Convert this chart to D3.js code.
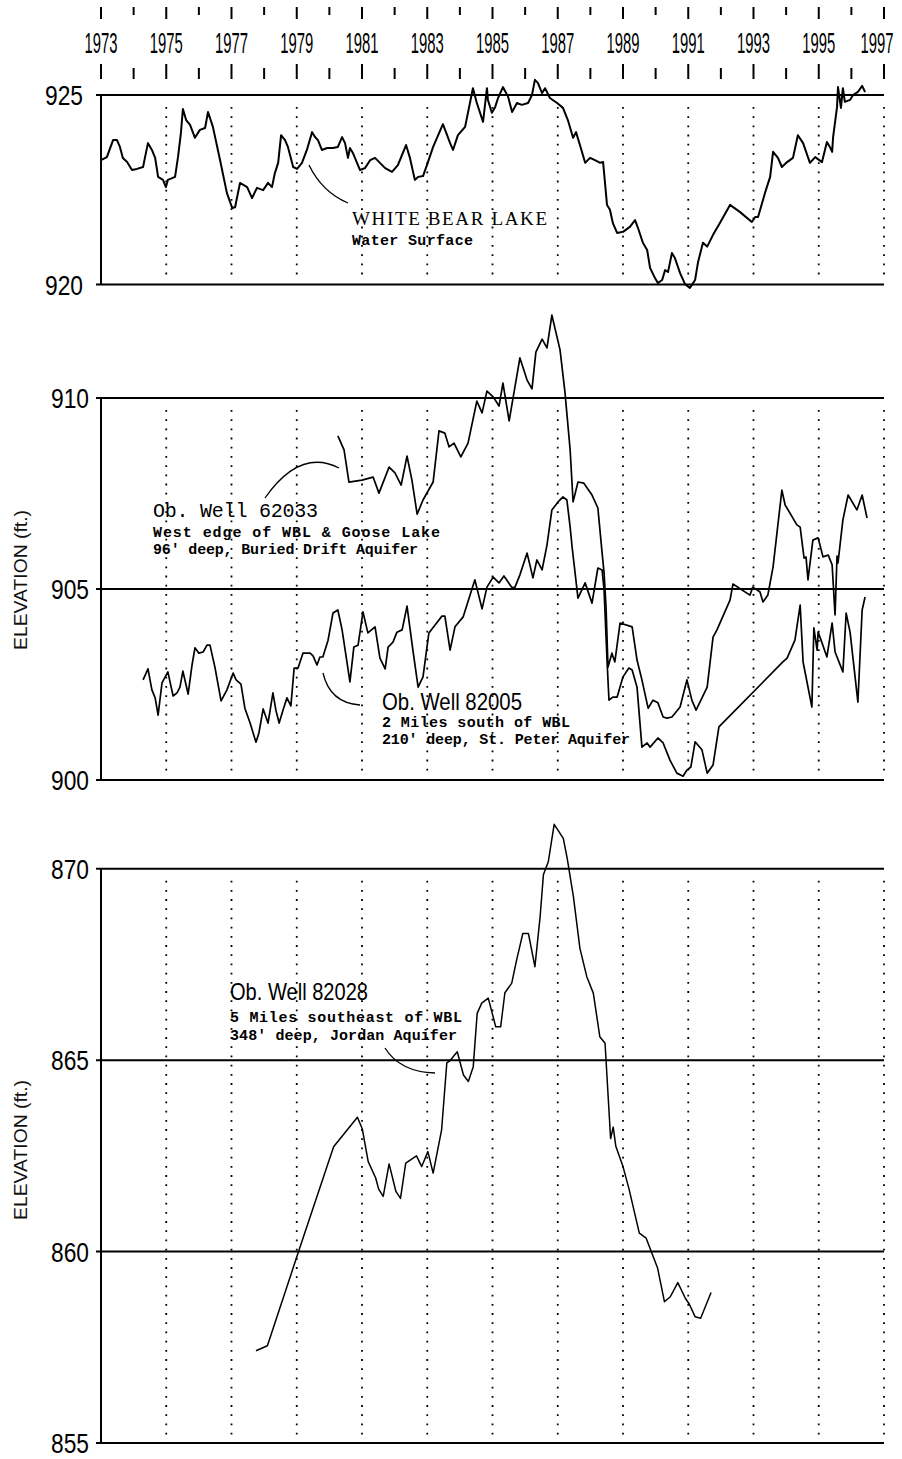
<!DOCTYPE html>
<html>
<head>
<meta charset="utf-8">
<script src="https://cdn.jsdelivr.net/npm/d3@7"></script>
<style>
  html, body { margin: 0; padding: 0; background: #fff; }
  svg { display: block; }
</style>
</head>
<body>
<svg id="chart" width="902" height="1459"></svg>
<script>
var tickYears  = d3.range(1973, 1998);
var labelYears = [1973, 1975, 1977, 1979, 1981, 1983, 1985, 1987, 1989, 1991, 1993, 1995, 1997];
var gridYears  = [1975, 1977, 1979, 1981, 1983, 1985, 1987, 1989, 1991, 1993, 1995, 1997];
var lakeTicks  = [920, 925];
var wellTicks  = [900, 905, 910];
var deepTicks  = [855, 860, 865, 870];

// White Bear Lake water surface (year, ft)
var whiteBearLake = [
  [1973.00,923.28],[1973.18,923.36],[1973.37,923.81],[1973.49,923.81],[1973.58,923.63],[1973.67,923.34],
  [1973.80,923.23],[1973.95,923.02],[1974.10,923.05],[1974.29,923.10],[1974.35,923.36],[1974.44,923.73],
  [1974.56,923.55],[1974.66,923.34],[1974.75,922.84],[1974.90,922.76],[1974.99,922.57],[1975.05,922.76],
  [1975.27,922.84],[1975.36,923.36],[1975.45,924.00],[1975.51,924.63],[1975.61,924.34],[1975.73,924.21],
  [1975.88,923.87],[1976.03,924.08],[1976.19,924.13],[1976.28,924.55],[1976.43,924.16],[1976.65,923.28],
  [1976.86,922.41],[1977.02,922.02],[1977.11,922.04],[1977.26,922.68],[1977.48,922.57],[1977.63,922.28],
  [1977.78,922.55],[1977.97,922.49],[1978.12,922.68],[1978.24,922.57],[1978.33,922.94],[1978.43,923.21],
  [1978.52,923.94],[1978.64,923.81],[1978.73,923.63],[1978.89,923.10],[1979.01,923.05],[1979.16,923.21],
  [1979.31,923.55],[1979.47,924.02],[1979.56,923.89],[1979.65,923.81],[1979.77,923.55],[1979.93,923.60],
  [1980.11,923.60],[1980.26,923.63],[1980.39,923.89],[1980.48,923.73],[1980.57,923.34],[1980.63,923.60],
  [1980.72,923.47],[1980.94,923.02],[1981.09,923.07],[1981.25,923.28],[1981.40,923.34],[1981.55,923.21],
  [1981.71,923.07],[1981.92,922.97],[1982.10,923.15],[1982.35,923.68],[1982.47,923.34],[1982.62,922.76],
  [1982.72,922.84],[1982.87,922.86],[1982.99,923.15],[1983.18,923.63],[1983.48,924.23],[1983.64,923.87],
  [1983.70,923.73],[1983.79,923.55],[1983.94,923.94],[1984.16,924.16],[1984.40,925.18],[1984.52,924.79],
  [1984.71,924.29],[1984.83,925.18],[1984.86,924.87],[1984.98,924.53],[1985.08,924.68],[1985.17,924.92],
  [1985.32,925.21],[1985.48,924.95],[1985.60,924.55],[1985.75,924.79],[1985.90,924.74],[1986.09,924.79],
  [1986.21,925.00],[1986.30,925.40],[1986.39,925.32],[1986.52,925.05],[1986.61,925.18],[1986.76,924.92],
  [1986.98,924.79],[1987.16,924.66],[1987.31,924.34],[1987.47,923.87],[1987.56,924.02],[1987.68,923.68],
  [1987.84,923.21],[1987.99,923.34],[1988.14,923.28],[1988.30,923.21],[1988.39,923.23],[1988.51,922.10],
  [1988.60,921.97],[1988.69,921.62],[1988.82,921.36],[1989.00,921.39],[1989.21,921.52],[1989.37,921.70],
  [1989.46,921.49],[1989.61,921.10],[1989.74,920.91],[1989.83,920.44],[1989.98,920.17],[1990.07,920.04],
  [1990.20,920.12],[1990.29,920.38],[1990.38,920.33],[1990.50,920.83],[1990.59,920.70],[1990.75,920.30],
  [1990.90,920.01],[1991.05,919.91],[1991.21,920.12],[1991.30,920.59],[1991.45,921.10],[1991.58,921.00],
  [1991.76,921.31],[1991.97,921.62],[1992.28,922.10],[1992.59,921.91],[1992.95,921.65],[1993.05,921.78],
  [1993.14,921.78],[1993.35,922.41],[1993.51,922.84],[1993.60,923.50],[1993.75,923.34],[1993.87,923.10],
  [1994.03,923.23],[1994.21,923.34],[1994.36,923.94],[1994.52,923.73],[1994.73,923.21],[1994.89,923.36],
  [1995.10,923.23],[1995.25,923.76],[1995.34,923.63],[1995.41,923.50],[1995.44,923.89],[1995.56,924.68],
  [1995.59,925.21],[1995.68,924.66],[1995.74,925.18],[1995.80,924.82],[1995.96,924.87],[1996.05,925.00],
  [1996.20,925.08],[1996.33,925.24],[1996.42,925.08]
];

// Ob. Well 62033, buried drift aquifer
var well62033 = [
  [1980.26,909.01],[1980.45,908.64],[1980.60,907.80],[1981.00,907.85],[1981.34,907.93],[1981.52,907.51],
  [1981.83,908.19],[1982.01,908.04],[1982.20,907.72],[1982.38,908.48],[1982.53,907.85],[1982.69,906.96],
  [1982.87,907.33],[1983.18,907.80],[1983.36,909.14],[1983.54,909.08],[1983.67,908.72],[1983.82,908.82],
  [1984.03,908.46],[1984.25,908.82],[1984.52,909.92],[1984.68,909.61],[1984.83,910.18],[1985.02,910.03],
  [1985.20,909.79],[1985.32,910.39],[1985.51,909.40],[1985.84,911.05],[1986.06,910.47],[1986.21,910.24],
  [1986.33,911.20],[1986.52,911.54],[1986.67,911.31],[1986.82,912.17],[1987.07,911.26],[1987.22,910.16],
  [1987.38,908.64],[1987.47,907.28],[1987.62,907.80],[1987.80,907.77],[1988.05,907.46],[1988.23,907.12],
  [1988.36,905.94],[1988.42,905.42],[1988.48,904.53],[1988.54,902.96],[1988.66,903.32],[1988.75,903.09],
  [1988.91,904.11],[1989.28,904.01],[1989.43,903.14],[1989.58,902.62],[1989.77,901.88],[1989.92,902.09],
  [1990.07,902.02],[1990.23,901.65],[1990.35,901.62],[1990.50,901.65],[1990.75,901.91],[1990.96,902.62],
  [1991.11,902.09],[1991.24,901.83],[1991.58,902.43],[1991.76,903.74],[1991.88,903.93],[1992.28,904.71],
  [1992.37,905.13],[1992.89,904.84],[1992.98,905.05],[1993.20,904.92],[1993.29,904.66],[1993.44,904.84],
  [1993.60,905.58],[1993.87,907.59],[1993.97,907.20],[1994.33,906.68],[1994.43,906.62],[1994.55,905.81],
  [1994.61,905.84],[1994.67,905.24],[1994.82,906.28],[1994.98,906.34],[1995.13,905.84],[1995.29,905.89],
  [1995.41,905.63],[1995.50,904.32],[1995.56,905.86],[1995.59,905.68],[1995.74,906.81],[1995.90,907.46],
  [1996.17,907.07],[1996.33,907.46],[1996.48,906.86]
];

// Ob. Well 82005, St. Peter aquifer
var well82005 = [
  [1974.29,902.62],[1974.44,902.91],[1974.56,902.36],[1974.66,902.15],[1974.75,901.70],[1974.87,902.54],
  [1975.05,902.83],[1975.21,902.20],[1975.33,902.28],[1975.42,902.43],[1975.51,902.85],[1975.67,902.25],
  [1975.79,903.01],[1975.88,903.46],[1976.00,903.32],[1976.13,903.35],[1976.25,903.53],[1976.34,903.53],
  [1976.49,902.96],[1976.68,902.07],[1976.86,902.36],[1977.05,902.80],[1977.14,902.62],[1977.29,902.51],
  [1977.41,901.88],[1977.57,901.49],[1977.75,900.99],[1977.84,901.23],[1977.97,901.86],[1978.12,901.49],
  [1978.27,902.28],[1978.36,901.83],[1978.46,901.49],[1978.58,901.83],[1978.70,902.15],[1978.82,901.94],
  [1978.92,902.93],[1979.04,902.93],[1979.19,903.32],[1979.41,903.32],[1979.50,903.25],[1979.62,903.01],
  [1979.71,903.22],[1979.80,903.22],[1979.96,903.66],[1980.11,904.37],[1980.26,904.45],[1980.39,903.93],
  [1980.63,902.57],[1980.75,903.48],[1980.88,903.53],[1981.03,904.40],[1981.18,903.85],[1981.40,904.01],
  [1981.55,903.19],[1981.71,902.91],[1981.80,903.48],[1981.95,903.61],[1982.07,903.87],[1982.23,903.93],
  [1982.38,904.55],[1982.56,903.40],[1982.72,902.43],[1982.87,902.70],[1983.05,903.85],[1983.24,904.06],
  [1983.45,904.29],[1983.54,904.29],[1983.70,903.40],[1983.85,904.01],[1984.10,904.27],[1984.46,905.24],
  [1984.68,904.48],[1984.83,905.05],[1985.02,905.31],[1985.20,905.16],[1985.35,905.34],[1985.60,905.03],
  [1985.69,905.05],[1985.84,905.37],[1986.06,905.94],[1986.24,905.29],[1986.36,905.76],[1986.52,905.50],
  [1986.67,906.15],[1986.82,907.07],[1987.01,907.28],[1987.16,907.41],[1987.28,907.33],[1987.38,906.62],
  [1987.44,906.10],[1987.62,904.76],[1987.84,905.16],[1988.05,904.63],[1988.23,905.55],[1988.36,905.50],
  [1988.42,904.97],[1988.51,903.14],[1988.57,902.09],[1988.69,902.17],[1988.82,902.17],[1989.00,902.70],
  [1989.18,902.93],[1989.28,902.88],[1989.43,902.43],[1989.58,900.86],[1989.74,900.97],[1989.83,900.86],
  [1990.07,901.10],[1990.23,900.97],[1990.44,900.52],[1990.65,900.18],[1990.84,900.10],[1990.96,900.26],
  [1991.08,900.34],[1991.21,901.00],[1991.42,900.79],[1991.58,900.18],[1991.76,900.39],[1991.94,901.39],
  [1993.90,903.09],[1994.03,903.19],[1994.27,903.66],[1994.43,904.58],[1994.52,903.09],[1994.79,901.91],
  [1994.85,903.98],[1994.95,903.40],[1994.98,903.87],[1995.10,903.59],[1995.25,903.22],[1995.41,904.11],
  [1995.50,903.35],[1995.74,902.83],[1995.84,904.37],[1995.96,903.87],[1996.20,902.04],[1996.33,904.45],
  [1996.42,904.79]
];

// Ob. Well 82028, Jordan aquifer
var well82028 = [
  [1977.75,857.41],[1978.10,857.54],[1979.04,859.96],[1980.13,862.74],[1980.86,863.51],[1981.01,863.20],
  [1981.19,862.35],[1981.42,861.92],[1981.51,861.63],[1981.65,861.44],[1981.83,862.29],[1982.04,861.57],
  [1982.18,861.39],[1982.34,862.31],[1982.67,862.50],[1982.83,862.22],[1983.02,862.61],[1983.18,862.05],
  [1983.44,863.18],[1983.60,864.93],[1983.70,864.99],[1983.92,865.22],[1984.11,864.61],[1984.26,864.44],
  [1984.41,864.83],[1984.53,866.22],[1984.67,866.49],[1984.87,866.62],[1985.10,865.87],[1985.25,865.87],
  [1985.38,866.76],[1985.59,867.01],[1985.74,867.62],[1985.93,868.31],[1986.10,868.31],[1986.30,867.44],
  [1986.46,868.75],[1986.56,869.84],[1986.71,870.18],[1986.89,871.16],[1987.17,870.79],[1987.29,870.27],
  [1987.48,869.27],[1987.68,867.92],[1987.89,867.18],[1988.09,866.75],[1988.29,865.61],[1988.45,865.44],
  [1988.62,862.95],[1988.70,863.25],[1988.78,862.75],[1989.00,862.22],[1989.18,861.65],[1989.50,860.48],
  [1989.71,860.35],[1990.06,859.57],[1990.27,858.69],[1990.45,858.82],[1990.68,859.19],[1990.91,858.78],
  [1991.03,858.63],[1991.21,858.30],[1991.38,858.26],[1991.70,858.93]
];

// ---- layout ----
var svg = d3.select('#chart');

var x = d3.scaleLinear().domain([1973, 1997]).range([101, 884]);

var panels = [
  { ticks: lakeTicks, y: d3.scaleLinear().domain([920, 925]).range([284.5, 95]),
    series: [whiteBearLake], width: 2, labelRight: 83 },
  { ticks: wellTicks, y: d3.scaleLinear().domain([900, 910]).range([780, 398]),
    series: [well62033, well82005], width: 1.7, labelRight: 89 },
  { ticks: deepTicks, y: d3.scaleLinear().domain([855, 870]).range([1443, 868.7]),
    series: [well82028], width: 1.5, labelRight: 89 }
];

// top year axis: two rows of ticks, labels in between
var axisG = svg.append('g').attr('class', 'year-axis');

axisG.selectAll('line.tick-top')
    .data(tickYears)
  .enter().append('line')
    .attr('class', 'tick-top')
    .attr('x1', function(d) { return x(d); })
    .attr('x2', function(d) { return x(d); })
    .attr('y1', 7)
    .attr('y2', function(d) { return d % 2 ? 19 : 15; })
    .attr('stroke', '#000')
    .attr('stroke-width', 2);

axisG.selectAll('line.tick-bottom')
    .data(tickYears)
  .enter().append('line')
    .attr('class', 'tick-bottom')
    .attr('x1', function(d) { return x(d); })
    .attr('x2', function(d) { return x(d); })
    .attr('y1', function(d) { return d % 2 ? 64 : 68; })
    .attr('y2', 79)
    .attr('stroke', '#000')
    .attr('stroke-width', 2);

axisG.selectAll('text')
    .data(labelYears)
  .enter().append('text')
    // keep the last label inside the page edge
    .attr('x', function(d) { return Math.min(x(d), 877); })
    .attr('y', 53)
    .attr('text-anchor', 'middle')
    .attr('font-family', '"Liberation Sans Narrow", "Liberation Sans", Arial, sans-serif')
    .attr('font-size', 29)
    .attr('textLength', 33)
    .attr('lengthAdjust', 'spacingAndGlyphs')
    .text(function(d) { return d; });

// each panel
panels.forEach(function(p) {
  var g = svg.append('g'),
      yTop = p.y(d3.max(p.ticks)),
      yBot = p.y(d3.min(p.ticks));

  // dotted year guides
  g.selectAll('line.grid')
      .data(gridYears)
    .enter().append('line')
      .attr('class', 'grid')
      .attr('x1', function(d) { return x(d); })
      .attr('x2', function(d) { return x(d); })
      .attr('y1', yTop + 12)
      .attr('y2', yBot - 7)
      .attr('stroke', '#000')
      .attr('stroke-width', 1.8)
      .attr('stroke-dasharray', '1.8,7.4');

  // horizontal reference lines
  g.selectAll('line.hline')
      .data(p.ticks)
    .enter().append('line')
      .attr('class', 'hline')
      .attr('x1', 96)
      .attr('x2', x(1997))
      .attr('y1', function(d) { return p.y(d); })
      .attr('y2', function(d) { return p.y(d); })
      .attr('stroke', '#000')
      .attr('stroke-width', 2);

  // left axis
  g.append('line')
      .attr('x1', x(1973)).attr('x2', x(1973))
      .attr('y1', yTop).attr('y2', yBot)
      .attr('stroke', '#000')
      .attr('stroke-width', 2);

  g.selectAll('text.ylab')
      .data(p.ticks)
    .enter().append('text')
      .attr('class', 'ylab')
      .attr('x', p.labelRight)
      .attr('y', function(d) { return p.y(d) + 10; })
      .attr('text-anchor', 'end')
      .attr('font-family', '"Liberation Sans", Arial, sans-serif')
      .attr('font-size', 28)
      .attr('textLength', 38)
      .attr('lengthAdjust', 'spacingAndGlyphs')
      .text(function(d) { return d; });

  var line = d3.line()
      .x(function(d) { return x(d[0]); })
      .y(function(d) { return p.y(d[1]); });

  g.selectAll('path.series')
      .data(p.series)
    .enter().append('path')
      .attr('class', 'series')
      .attr('d', line)
      .attr('fill', 'none')
      .attr('stroke', '#000')
      .attr('stroke-width', p.width)
      .attr('stroke-linejoin', 'round');
});

// axis titles
[580, 1150].forEach(function(cy) {
  svg.append('text')
      .attr('transform', 'translate(27,' + cy + ') rotate(-90)')
      .attr('text-anchor', 'middle')
      .attr('font-family', '"Liberation Sans", Arial, sans-serif')
      .attr('font-size', 18)
      .attr('fill', '#111')
      .attr('textLength', 140)
      .attr('lengthAdjust', 'spacingAndGlyphs')
      .text('ELEVATION  (ft.)');
});

// annotations
var notes = [
  { x: 352, y: 225, text: 'WHITE BEAR LAKE', font: '"Liberation Serif", serif', size: 19, weight: 'normal', len: 195, adj: 'spacing' },
  { x: 352, y: 245, text: 'Water Surface', font: '"Liberation Mono", monospace', size: 15, weight: 'bold', len: 121, adj: 'spacing' },
  { x: 153, y: 517, text: 'Ob. Well 62033', font: '"Liberation Mono", monospace', size: 20, weight: 'normal', len: 165, adj: 'spacing' },
  { x: 153, y: 537, text: 'West edge of WBL & Goose Lake', font: '"Liberation Mono", monospace', size: 15, weight: 'bold', len: 287, adj: 'spacing' },
  { x: 153, y: 554, text: "96' deep, Buried Drift Aquifer", font: '"Liberation Mono", monospace', size: 15, weight: 'bold', len: 265, adj: 'spacing' },
  { x: 382, y: 710, text: 'Ob. Well 82005', font: '"Liberation Sans", Arial, sans-serif', size: 24, weight: 'normal', len: 140, adj: 'spacingAndGlyphs' },
  { x: 382, y: 727, text: '2 Miles south of WBL', font: '"Liberation Mono", monospace', size: 15, weight: 'bold', len: 188, adj: 'spacing' },
  { x: 382, y: 744, text: "210' deep, St. Peter Aquifer", font: '"Liberation Mono", monospace', size: 15, weight: 'bold', len: 248, adj: 'spacing' },
  { x: 230, y: 1000, text: 'Ob. Well 82028', font: '"Liberation Sans", Arial, sans-serif', size: 24, weight: 'normal', len: 138, adj: 'spacingAndGlyphs' },
  { x: 230, y: 1022, text: '5 Miles southeast of WBL', font: '"Liberation Mono", monospace', size: 15, weight: 'bold', len: 232, adj: 'spacing' },
  { x: 230, y: 1040, text: "348' deep, Jordan Aquifer", font: '"Liberation Mono", monospace', size: 15, weight: 'bold', len: 227, adj: 'spacing' }
];

svg.selectAll('text.note')
    .data(notes)
  .enter().append('text')
    .attr('class', 'note')
    .attr('x', function(d) { return d.x; })
    .attr('y', function(d) { return d.y; })
    .attr('font-family', function(d) { return d.font; })
    .attr('font-size', function(d) { return d.size; })
    .attr('font-weight', function(d) { return d.weight; })
    .attr('textLength', function(d) { return d.len; })
    .attr('lengthAdjust', function(d) { return d.adj; })
    .text(function(d) { return d.text; });

// leader lines from labels to curves
var leaders = [
  'M309,165 Q322,192 348,203',
  'M265,498 Q300,448 339,468',
  'M323,673 Q330,703 360,705',
  'M385,1048 Q400,1072 435,1073'
];

svg.selectAll('path.leader')
    .data(leaders)
  .enter().append('path')
    .attr('class', 'leader')
    .attr('d', function(d) { return d; })
    .attr('fill', 'none')
    .attr('stroke', '#000')
    .attr('stroke-width', 1.3);
</script>
</body>
</html>
